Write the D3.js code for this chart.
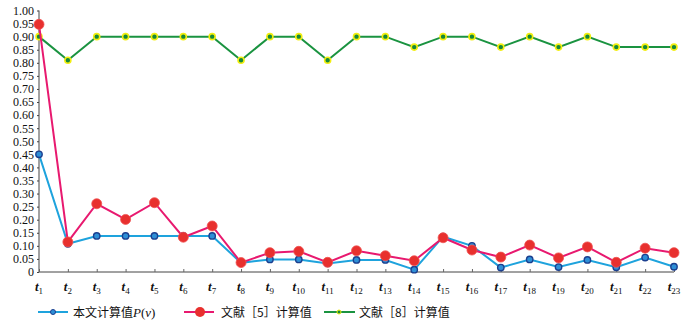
<!DOCTYPE html>
<html><head><meta charset="utf-8">
<script src="https://cdn.jsdelivr.net/npm/d3@7/dist/d3.min.js"></script>
<style>body{margin:0;background:#fff}svg{display:block}</style>
</head><body><svg id="c" width="700" height="328"></svg>
<script>
const categories = d3.range(1, 24).map(i => "t" + i);
const seriesP = [0.45,0.108,0.138,0.138,0.138,0.138,0.138,0.035,0.048,0.048,0.033,0.046,0.046,0.009,0.135,0.10,0.017,0.048,0.019,0.046,0.018,0.055,0.02];
const series5 = [0.947,0.115,0.261,0.201,0.265,0.133,0.176,0.036,0.074,0.079,0.037,0.081,0.062,0.043,0.131,0.084,0.057,0.103,0.054,0.096,0.037,0.091,0.074];
const series8 = [0.90,0.81,0.90,0.90,0.90,0.90,0.90,0.81,0.90,0.90,0.81,0.90,0.90,0.86,0.90,0.90,0.86,0.90,0.86,0.90,0.86,0.86,0.86];
const yTicks = d3.range(0, 21).map(i => i * 0.05);
const legendLabels = ["本文计算值", "文献［5］计算值", "文献［8］计算值"];

const svg = d3.select("#c");
const x = d3.scalePoint().domain(categories).range([39, 674]);
const y = d3.scaleLinear().domain([0, 1]).range([272, 10.5]);
const serif = "'Liberation Serif','Times New Roman',serif";
const cjk = "'Noto Sans CJK SC','Liberation Serif',serif";

// axes
const yAxis = svg.append("g").attr("transform", "translate(39,0)")
  .call(d3.axisLeft(y).tickValues(yTicks).tickSize(2).tickPadding(3)
    .tickFormat(d => d === 0 ? "0" : d3.format(".2f")(d)));
yAxis.select(".domain").attr("stroke", "#444").attr("d", "M0," + y(1) + "V" + y(0));
yAxis.selectAll(".tick line").attr("stroke", "#444");
yAxis.selectAll("text").attr("font-family", serif).attr("font-size", 12).attr("fill", "#111");

const xAxis = svg.append("g").attr("transform", "translate(0,272)")
  .call(d3.axisBottom(x).tickSize(-3).tickFormat(""));
xAxis.select(".domain").attr("stroke", "#444").attr("d", "M39,0H674");
xAxis.selectAll(".tick line").attr("stroke", "#666");

const xl = svg.append("g");
categories.forEach(c => {
  const t = xl.append("text").attr("x", x(c)).attr("y", 291).attr("text-anchor", "middle")
    .attr("font-family", serif).attr("fill", "#111");
  t.append("tspan").attr("font-style", "italic").attr("font-weight", "bold").attr("font-size", 13).text("t");
  t.append("tspan").attr("font-size", 9).attr("dy", 3).text(c.slice(1));
});

const line = d3.line().x((d, i) => x(categories[i])).y(d => y(d));

// green series
svg.append("path").datum(series8).attr("d", line).attr("fill", "none").attr("stroke", "#1a9340").attr("stroke-width", 2);
svg.append("g").selectAll("circle").data(series8).join("circle")
  .attr("cx", (d, i) => x(categories[i])).attr("cy", d => y(d)).attr("r", 3)
  .attr("fill", "#15883a").attr("stroke", "#f2ee10").attr("stroke-width", 1.6);

// blue series
svg.append("path").datum(seriesP).attr("d", line).attr("fill", "none").attr("stroke", "#1ea3dd").attr("stroke-width", 2);
svg.append("g").selectAll("circle").data(seriesP).join("circle")
  .attr("cx", (d, i) => x(categories[i])).attr("cy", d => y(d)).attr("r", 3.2)
  .attr("fill", "#2e8fd6").attr("stroke", "#1b3f8f").attr("stroke-width", 1.4);

// red series
svg.append("path").datum(series5).attr("d", line).attr("fill", "none").attr("stroke", "#e8196f").attr("stroke-width", 2);
svg.append("g").selectAll("circle").data(series5).join("circle")
  .attr("cx", (d, i) => x(categories[i])).attr("cy", d => y(d)).attr("r", 5)
  .attr("fill", "#e8302e").attr("stroke", "#f05050").attr("stroke-width", 0.8);

// legend
const lg = svg.append("g").attr("transform", "translate(0,312)");
// item 1
lg.append("line").attr("x1", 38).attr("x2", 68).attr("y1", 0).attr("y2", 0).attr("stroke", "#1ea3dd").attr("stroke-width", 2);
lg.append("circle").attr("cx", 53).attr("cy", 0).attr("r", 2.5).attr("fill", "#2e8fd6").attr("stroke", "#1b3f8f").attr("stroke-width", 1);
const t1 = lg.append("text").attr("x", 73).attr("y", 4.5).attr("font-family", cjk).attr("font-size", 12).attr("fill", "#111");
t1.append("tspan").text(legendLabels[0]);
t1.append("tspan").attr("font-family", serif).attr("font-style", "italic").attr("font-size", 13).text("P");
t1.append("tspan").attr("font-family", serif).attr("font-size", 13).text("(");
t1.append("tspan").attr("font-family", serif).attr("font-style", "italic").attr("font-size", 13).text("v");
t1.append("tspan").attr("font-family", serif).attr("font-size", 13).text(")");
// item 2
lg.append("line").attr("x1", 184).attr("x2", 214).attr("y1", 0).attr("y2", 0).attr("stroke", "#e8196f").attr("stroke-width", 2);
lg.append("circle").attr("cx", 200).attr("cy", 0).attr("r", 5).attr("fill", "#e8302e");
lg.append("text").attr("x", 221).attr("y", 4.5).attr("font-family", cjk).attr("font-size", 12).attr("fill", "#111").text(legendLabels[1]);
// item 3
lg.append("line").attr("x1", 324).attr("x2", 355).attr("y1", 0).attr("y2", 0).attr("stroke", "#1a9340").attr("stroke-width", 2);
lg.append("circle").attr("cx", 339).attr("cy", 0).attr("r", 2).attr("fill", "#15883a").attr("stroke", "#f2ee10").attr("stroke-width", 1);
lg.append("text").attr("x", 359).attr("y", 4.5).attr("font-family", cjk).attr("font-size", 12).attr("fill", "#111").text(legendLabels[2]);
</script></body></html>
